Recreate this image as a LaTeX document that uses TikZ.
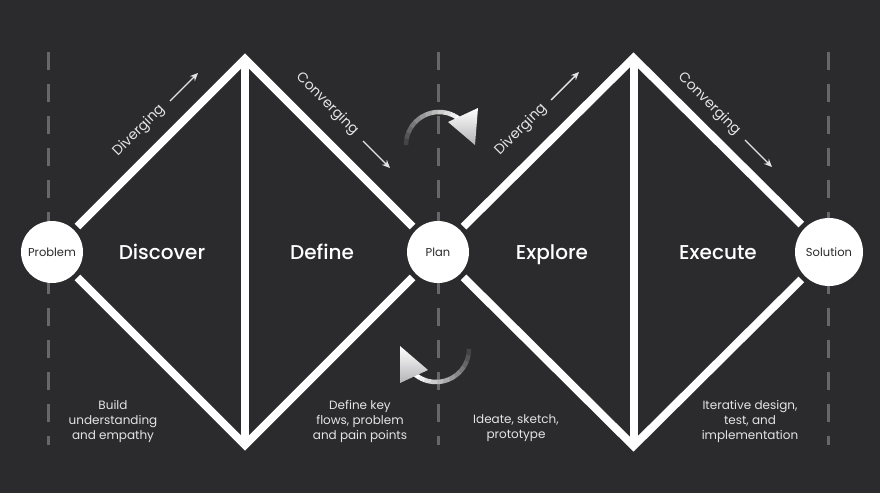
\documentclass[tikz,border=0pt]{standalone}
\usepackage{fontspec}
\setmainfont{Poppins}
\newfontfamily\headfont{Poppins Medium}
\usetikzlibrary{arrows.meta,calc}
\definecolor{bg}{HTML}{2B2B2D}
\definecolor{dashc}{HTML}{67676A}
\definecolor{txt}{HTML}{E4E4E4}
\definecolor{ink}{HTML}{2A2A2A}
\definecolor{headg}{HTML}{B4B4B6}
\begin{document}
\begin{tikzpicture}[x=1pt,y=-1pt,
  dline/.style={draw=dashc, line width=3, dash pattern=on 18 off 14},
  frame/.style={draw=white, line width=8, line join=miter},
  endpoint/.style={circle, fill=white, draw=none, minimum size=62, inner sep=0, outer sep=5, font=\fontsize{11.5}{13}\selectfont, text=ink},
  phase/.style={font=\headfont\fontsize{20}{22}\selectfont, text=white, anchor=base},
  note/.style={font=\fontsize{12}{15}\selectfont, text=txt, align=center},
  mode/.style={font=\fontsize{14}{16}\selectfont, text=txt},
  flow/.style={draw=txt, line width=1.4, -{Stealth[length=8, width=7]}},
  headshade/.style={shading=axis, shading angle=-60, top color=white, bottom color=headg},
]
\fill[bg] (0,0) rectangle (880,493);
\useasboundingbox (0,0) rectangle (880,493);

% dashed guides
\draw[dline] (48,52) -- (48,445);
\draw[dline] (438,52) -- (438,445);
\draw[dline] (828,52) -- (828,445);

% end points
\node[endpoint] (problem) at (52,252) {Problem};
\node[endpoint] (plan) at (438,252) {Plan};
\node[endpoint, minimum size=68] (solution) at (829,252) {Solution};

\coordinate (t1) at (245,59);
\coordinate (b1) at (245,445);
\coordinate (t2) at (633.5,58);
\coordinate (b2) at (633.5,446);

% diamonds
\draw[frame] (problem) -- (t1) -- (plan);
\draw[frame] (problem) -- (b1) -- (plan);
\draw[frame] (t1) -- (b1);
\draw[frame] (plan) -- (t2) -- (solution);
\draw[frame] (plan) -- (b2) -- (solution);
\draw[frame] (t2) -- (b2);

% phase names
\node[phase] (discover) at (162,259) {Discover};
\node[phase] (define) at (322,259) {Define};
\node[phase] (explore) at (552,259) {Explore};
\node[phase] (execute) at (718,259) {Execute};

% diverging / converging
\node[mode, rotate=45] (div1) at (139,131) {Diverging};
\coordinate (d1a) at (170,101); \coordinate (d1b) at (198,73);
\draw[flow] (d1a) -- (d1b);
\node[mode, rotate=-45] (con1) at (327,104) {Converging};
\coordinate (c1a) at (363,141); \coordinate (c1b) at (390,168);
\draw[flow] (c1a) -- (c1b);
\node[mode, rotate=45] (div2) at (521,130) {Diverging};
\coordinate (d2a) at (551,100); \coordinate (d2b) at (579,72);
\draw[flow] (d2a) -- (d2b);
\node[mode, rotate=-45] (con2) at (709,104) {Converging};
\coordinate (c2a) at (745,140); \coordinate (c2b) at (772,167);
\draw[flow] (c2a) -- (c2b);

% notes
\node[note] (n1) at (113,421) {Build\\understanding\\and empathy};
\node[note] (n2) at (360,421) {Define key\\flows, problem\\and pain points};
\node[note] (n3) at (516,428) {Ideate, sketch,\\prototype};
\node[note] (n4) at (750,421) {Iterative design,\\test, and\\implementation};

% cycle arrows (fading arcs with heads)
\foreach \i in {0,...,11} {
  \pgfmathtruncatemacro\p{12+\i*8}
  \pgfmathsetmacro\a{180+\i*11}
  \pgfmathsetmacro\b{\a+11.6}
  \draw[line width=4.5, draw=white!\p!bg] ({439+33*cos(\a)},{145+33*sin(\a)}) arc[start angle=\a, end angle=\b, radius=33];
}
\shade[headshade] (448,122) -- (478,108) -- (475,145) -- cycle;
\foreach \i in {0,...,11} {
  \pgfmathtruncatemacro\p{12+\i*8}
  \pgfmathsetmacro\a{\i*11}
  \pgfmathsetmacro\b{\a+11.6}
  \draw[line width=4.5, draw=white!\p!bg] ({436+33*cos(\a)},{349+33*sin(\a)}) arc[start angle=\a, end angle=\b, radius=33];
}
\shade[headshade] (400,346) -- (428,370) -- (400,383) -- cycle;
\end{tikzpicture}
\end{document}
